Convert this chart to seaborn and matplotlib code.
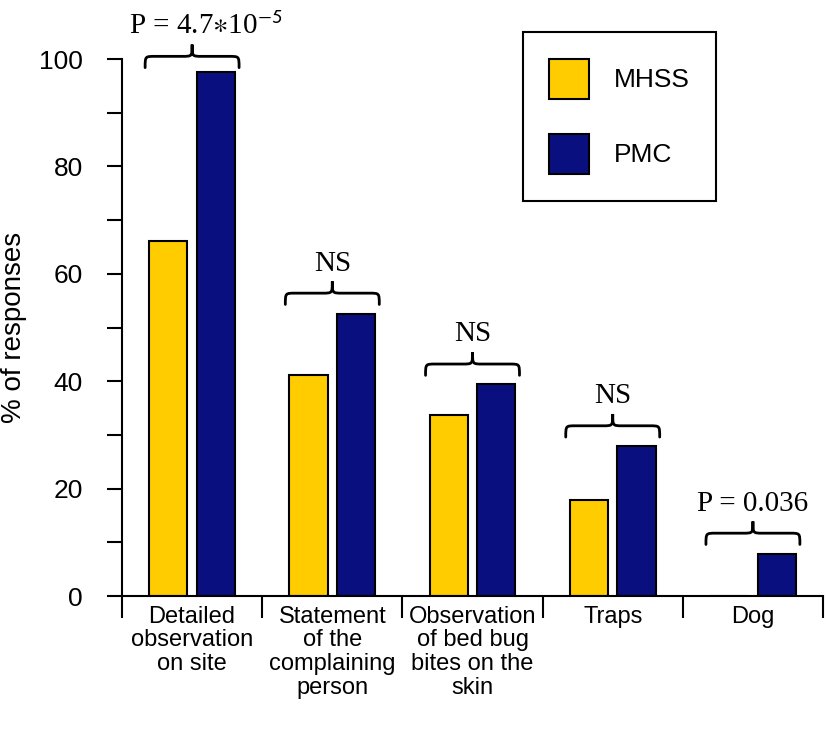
import matplotlib
matplotlib.use('Agg')
import matplotlib.pyplot as plt
import pandas as pd
import seaborn as sns
from matplotlib.patches import Patch, PathPatch
from matplotlib.path import Path

# valores
categories = ['Detailed\nobservation\non site',
              'Statement\nof the\ncomplaining\nperson',
              'Observation\nof bed bug\nbites on the\nskin',
              'Traps',
              'Dog']
mhss = [66.1, 41.2, 33.7, 17.8, 0.0]
pmc = [97.6, 52.6, 39.4, 27.9, 7.9]
groups = ['MHSS', 'PMC']
colors = ['#FFCC00', '#0A0F80']
pvalues = [r'P = 4.7$\ast$10$^{\mathsf{-5}}$', 'NS', 'NS', 'NS', 'P = 0.036']

df = pd.DataFrame({
    'category': categories * 2,
    'value': mhss + pmc,
    'group': [groups[0]] * len(categories) + [groups[1]] * len(categories),
})

plt.rcParams['font.family'] = ['Liberation Sans', 'DejaVu Sans']
plt.rcParams['mathtext.fontset'] = 'stix'

fig = plt.figure(figsize=(8.26, 7.38), dpi=100)
ax = fig.add_axes([0.1477, 0.1924, 0.8487, 0.7276])

sns.barplot(data=df, x='category', y='value', hue='group', order=categories,
            hue_order=groups, palette=colors, saturation=1, width=0.68, gap=0.2,
            edgecolor='black', linewidth=1.5, legend=False, ax=ax)

ax.set_xlim(-0.5, len(categories) - 0.5)
ax.set_ylim(0, 100)

# eixos
for s in ['top', 'right']:
    ax.spines[s].set_visible(False)
for s in ['left', 'bottom']:
    ax.spines[s].set_linewidth(1.5)

ax.set_yticks(range(0, 101, 20))
ax.set_yticks(range(10, 100, 20), minor=True)
ax.tick_params(axis='y', which='both', length=11, width=1.5, labelsize=19, pad=17)

ax.set_xticks(range(len(categories)))
ax.set_xticklabels(categories, fontsize=17, linespacing=1.1)
ax.set_xticks([i - 0.5 for i in range(len(categories) + 1)], minor=True)
ax.tick_params(axis='x', which='major', length=0, pad=7)
ax.tick_params(axis='x', which='minor', length=16, width=1.5)

ax.set_xlabel('')
ax.set_ylabel('% of responses', fontsize=20)
ax.yaxis.set_label_coords(-0.136, 0.5)


def draw_brace(ax, x0, x1, y, hh, tip, dx=0.07):
    xm = (x0 + x1) / 2
    verts = [(x0, y), (x0, y + hh), (x0, y + hh), (x0 + dx, y + hh),
             (xm - dx, y + hh),
             (xm, y + hh), (xm, y + hh), (xm, y + tip),
             (xm, y + hh), (xm, y + hh), (xm + dx, y + hh),
             (x1 - dx, y + hh),
             (x1, y + hh), (x1, y + hh), (x1, y)]
    codes = [Path.MOVETO, Path.CURVE4, Path.CURVE4, Path.CURVE4,
             Path.LINETO,
             Path.CURVE4, Path.CURVE4, Path.CURVE4,
             Path.CURVE4, Path.CURVE4, Path.CURVE4,
             Path.LINETO,
             Path.CURVE4, Path.CURVE4, Path.CURVE4]
    patch = PathPatch(Path(verts, codes), facecolor='none', edgecolor='black',
                      lw=2, clip_on=False, capstyle='round')
    ax.add_patch(patch)


# chaves com os valores de P
for i, label in enumerate(pvalues):
    base = max(mhss[i], pmc[i]) + (0.8 if i == 0 else 1.7)
    draw_brace(ax, i - 0.335, i + 0.335, base, 2.1, 4.3)
    ax.text(i + (0.1 if i == 0 else 0.0), base + 6.3, label, ha='center', va='baseline',
            fontsize=21, family=['Liberation Serif', 'DejaVu Serif'], clip_on=False)

# legenda
handles = [Patch(facecolor=c, edgecolor='black', linewidth=1.5) for c in colors]
leg = ax.legend(handles, groups, loc='upper left', bbox_to_anchor=(0.572, 1.05),
                borderaxespad=0, fontsize=19, handlelength=1.5, handleheight=2.0,
                labelspacing=1.3, handletextpad=0.95, borderpad=1.0,
                fancybox=False, frameon=True, edgecolor='black', framealpha=1)
leg.get_frame().set_linewidth(1.5)

fig.savefig('out.png', dpi=100)
